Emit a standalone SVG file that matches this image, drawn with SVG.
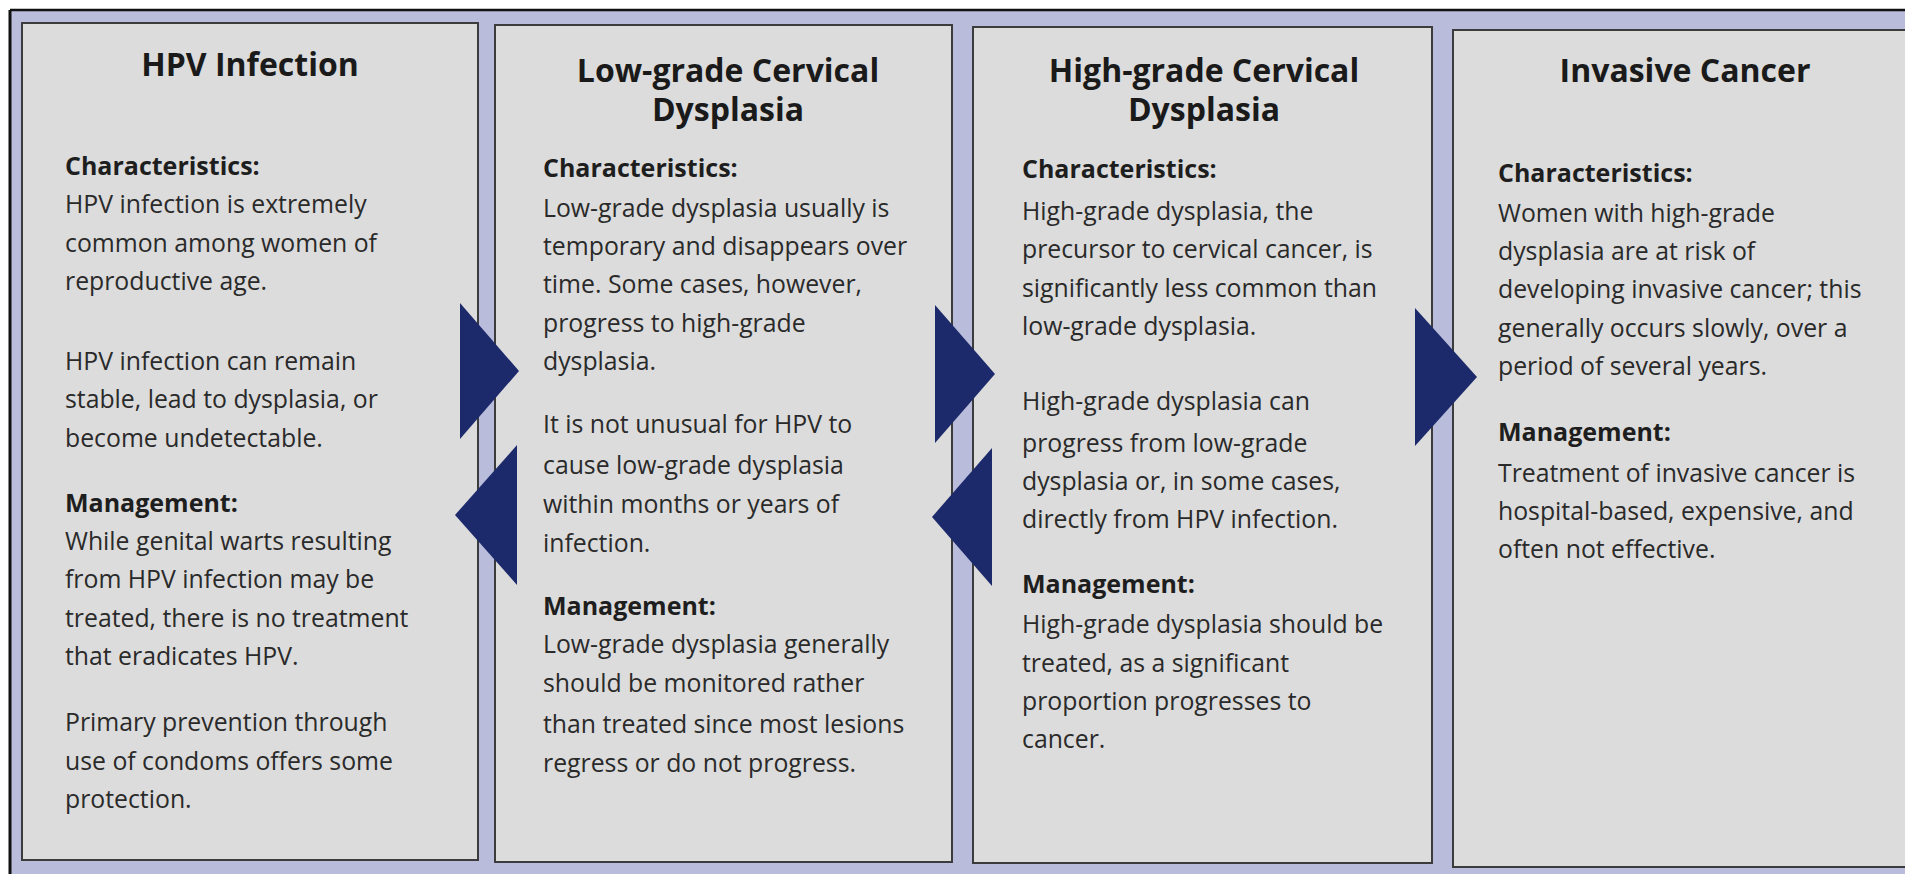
<svg xmlns="http://www.w3.org/2000/svg" width="1905" height="874" viewBox="0 0 1905 874">
  <style>
    .panel { fill: #dcdcdc; stroke: #3c3c3c; stroke-width: 2; }
    .title { font-family: "Open Sans", "Liberation Sans", sans-serif; font-weight: bold; font-size: 32px; fill: #1a1a1a; text-anchor: middle; }
    .head { font-family: "Open Sans", "Liberation Sans", sans-serif; font-weight: bold; font-size: 25px; fill: #1e1e1e; }
    .body { font-family: "Open Sans", "Liberation Sans", sans-serif; font-size: 24.8px; fill: #2a2a2a; }
    .arrow { fill: #1c2a6b; }
  </style>

  <!-- page frame -->
  <rect x="0" y="0" width="1905" height="874" fill="#ffffff"/>
  <rect x="10" y="10" width="1900" height="870" fill="#b9bddb"/>
  <line x1="10" y1="10" x2="1905" y2="10" stroke="#111" stroke-width="2.5"/>
  <line x1="10" y1="10" x2="10" y2="874" stroke="#111" stroke-width="3"/>

  <!-- stage 1 -->
  <g id="hpv-infection">
    <rect class="panel" x="22" y="23" width="456" height="837"/>
    <text class="title" x="250" y="76">HPV Infection</text>
    <text class="head" x="65" y="175">Characteristics:</text>
    <text class="body" x="65" y="213">HPV infection is extremely</text>
    <text class="body" x="65" y="252">common among women of</text>
    <text class="body" x="65" y="290">reproductive age.</text>
    <text class="body" x="65" y="370">HPV infection can remain</text>
    <text class="body" x="65" y="408">stable, lead to dysplasia, or</text>
    <text class="body" x="65" y="447">become undetectable.</text>
    <text class="head" x="65" y="512">Management:</text>
    <text class="body" x="65" y="550">While genital warts resulting</text>
    <text class="body" x="65" y="588">from HPV infection may be</text>
    <text class="body" x="65" y="627">treated, there is no treatment</text>
    <text class="body" x="65" y="665">that eradicates HPV.</text>
    <text class="body" x="65" y="731">Primary prevention through</text>
    <text class="body" x="65" y="770">use of condoms offers some</text>
    <text class="body" x="65" y="808">protection.</text>
  </g>

  <!-- stage 2 -->
  <g id="low-grade-dysplasia">
    <rect class="panel" x="495" y="25" width="457" height="837"/>
    <text class="title" x="728" y="82">Low-grade Cervical</text>
    <text class="title" x="728" y="121">Dysplasia</text>
    <text class="head" x="543" y="177">Characteristics:</text>
    <text class="body" x="543" y="217">Low-grade dysplasia usually is</text>
    <text class="body" x="543" y="255">temporary and disappears over</text>
    <text class="body" x="543" y="293">time. Some cases, however,</text>
    <text class="body" x="543" y="332">progress to high-grade</text>
    <text class="body" x="543" y="370">dysplasia.</text>
    <text class="body" x="543" y="433">It is not unusual for HPV to</text>
    <text class="body" x="543" y="474">cause low-grade dysplasia</text>
    <text class="body" x="543" y="513">within months or years of</text>
    <text class="body" x="543" y="552">infection.</text>
    <text class="head" x="543" y="615">Management:</text>
    <text class="body" x="543" y="653">Low-grade dysplasia generally</text>
    <text class="body" x="543" y="692">should be monitored rather</text>
    <text class="body" x="543" y="733">than treated since most lesions</text>
    <text class="body" x="543" y="772">regress or do not progress.</text>
  </g>

  <!-- stage 3 -->
  <g id="high-grade-dysplasia">
    <rect class="panel" x="973" y="27" width="459" height="836"/>
    <text class="title" x="1204" y="82">High-grade Cervical</text>
    <text class="title" x="1204" y="121">Dysplasia</text>
    <text class="head" x="1022" y="178">Characteristics:</text>
    <text class="body" x="1022" y="220">High-grade dysplasia, the</text>
    <text class="body" x="1022" y="258">precursor to cervical cancer, is</text>
    <text class="body" x="1022" y="297">significantly less common than</text>
    <text class="body" x="1022" y="335">low-grade dysplasia.</text>
    <text class="body" x="1022" y="410">High-grade dysplasia can</text>
    <text class="body" x="1022" y="452">progress from low-grade</text>
    <text class="body" x="1022" y="490">dysplasia or, in some cases,</text>
    <text class="body" x="1022" y="528">directly from HPV infection.</text>
    <text class="head" x="1022" y="593">Management:</text>
    <text class="body" x="1022" y="633">High-grade dysplasia should be</text>
    <text class="body" x="1022" y="672">treated, as a significant</text>
    <text class="body" x="1022" y="710">proportion progresses to</text>
    <text class="body" x="1022" y="748">cancer.</text>
  </g>

  <!-- stage 4 -->
  <g id="invasive-cancer">
    <rect class="panel" x="1453" y="30" width="470" height="837"/>
    <text class="title" x="1685" y="82">Invasive Cancer</text>
    <text class="head" x="1498" y="182">Characteristics:</text>
    <text class="body" x="1498" y="222">Women with high-grade</text>
    <text class="body" x="1498" y="260">dysplasia are at risk of</text>
    <text class="body" x="1498" y="298">developing invasive cancer; this</text>
    <text class="body" x="1498" y="337">generally occurs slowly, over a</text>
    <text class="body" x="1498" y="375">period of several years.</text>
    <text class="head" x="1498" y="441">Management:</text>
    <text class="body" x="1498" y="482">Treatment of invasive cancer is</text>
    <text class="body" x="1498" y="520">hospital-based, expensive, and</text>
    <text class="body" x="1498" y="558">often not effective.</text>
  </g>

  <!-- progression / regression arrows between stages -->
  <g id="connectors">
    <polygon class="arrow" points="460,303 519,371 460,439"/>
    <polygon class="arrow" points="517,445 455,515 517,585"/>
    <polygon class="arrow" points="935,305 995,374 935,443"/>
    <polygon class="arrow" points="992,448 932,517 992,586"/>
    <polygon class="arrow" points="1415,308 1477,377 1415,446"/>
  </g>
</svg>
